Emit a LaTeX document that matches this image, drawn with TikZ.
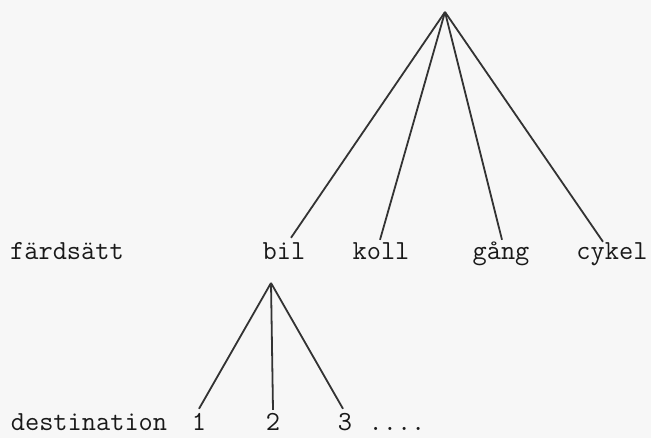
\documentclass[tikz,border=0pt]{standalone}
\begin{document}
\begin{tikzpicture}[x=1pt,y=-1pt,
  lbl/.style={anchor=base,inner sep=0pt,text height=17pt,text depth=0pt,
    text=black!90,font=\ttfamily\fontsize{27.6}{30}\selectfont},
  branch/.style={draw=black!80,line width=1.8pt}]
  % paper
  \fill[black!3] (0,0) rectangle (651,438);
  \useasboundingbox (0,0) rectangle (651,438);

  % first level: mode of travel
  \coordinate (root) at (445,12);
  \node[lbl] (mode) at (67,260) {färdsätt};
  \node[lbl] (bil)  at (284,260) {bil};
  \node[lbl] (koll) at (381,260) {koll};
  \node[lbl] (gang) at (501,260) {gång};
  \node[lbl] (cykel) at (612,260) {cykel};

  \draw[branch] (root) -- ([xshift=7pt,yshift=5pt]bil.north);
  \draw[branch] (root) -- ([xshift=-1pt,yshift=3pt]koll.north);
  \draw[branch] (root) -- ([xshift=1pt,yshift=3pt]gang.north);
  \draw[branch] (root) -- ([xshift=-9pt,yshift=1pt]cykel.north);

  % second level: destination under "bil"
  \coordinate (fork) at (271,283);
  \node[lbl] (dest) at (89,431) {destination};
  \node[lbl] (d1) at (199,431) {1};
  \node[lbl] (d2) at (273,431) {2};
  \node[lbl] (d3) at (345,431) {3};
  \node[lbl] (more) at (397,431) {....};

  \draw[branch] (fork) -- ([yshift=5pt]d1.north);
  \draw[branch] (fork) -- ([yshift=4pt]d2.north);
  \draw[branch] (fork) -- ([xshift=-2pt,yshift=5pt]d3.north);
\end{tikzpicture}
\end{document}
